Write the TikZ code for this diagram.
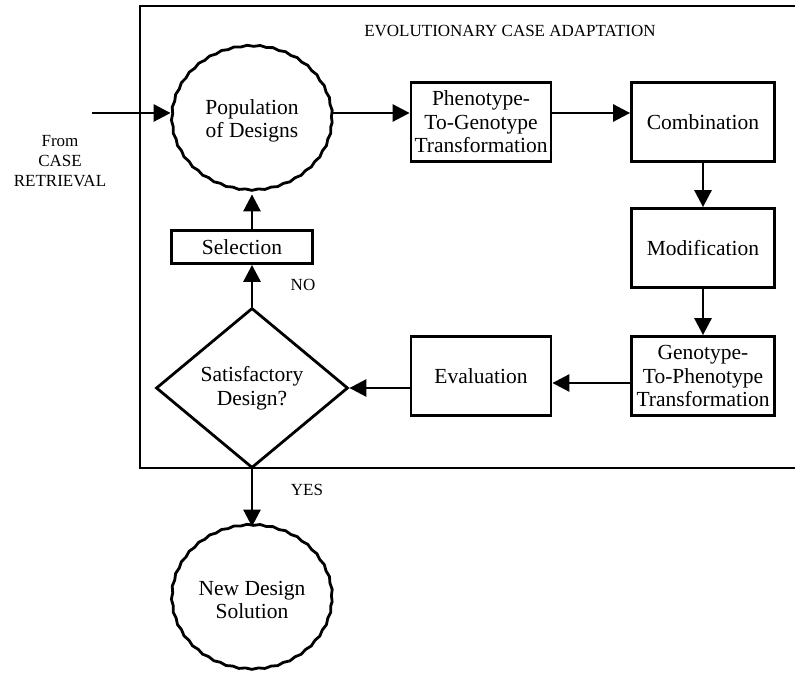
\documentclass[tikz,border=0pt]{standalone}
\usepackage{fontspec}
\setmainfont{Liberation Serif}
\usetikzlibrary{arrows.meta,shapes.geometric,decorations.pathmorphing}
\begin{document}
\begin{tikzpicture}[x=1pt, y=1pt, line width=2.8pt,
  >={Triangle[length=17pt,width=17pt]},
  every node/.style={font=\fontsize{21.5}{23.5}\selectfont, align=center, inner sep=0pt},
  small/.style={font=\fontsize{17}{20}\selectfont},
  box/.style={draw, rectangle, minimum width=141pt, minimum height=79pt},
  blob/.style={draw, ellipse, minimum width=160pt, minimum height=144pt,
    decorate, decoration={snake, amplitude=0.6pt, segment length=13pt}},
  test/.style={draw, diamond, minimum width=192pt, minimum height=160pt}]
  \useasboundingbox (0,0) rectangle (795,673);
  % frame
  \draw (795,667) -- (140,667) -- (140,205) -- (795,205);
  \node[small] (title) at (510,642) {EVOLUTIONARY CASE ADAPTATION};
  % loop
  \node[blob] (pop) at (252,552) {Population\\of Designs};
  \node[box, minimum width=140pt] (p2g) at (481,551) {Phenotype-\\To-Genotype\\Transformation};
  \node[box, minimum width=143pt] (comb) at (703,551) {Combination};
  \node[box, minimum width=143pt] (mod) at (703,425) {Modification};
  \node[box, minimum width=143pt] (g2p) at (703,297) {Genotype-\\To-Phenotype\\Transformation};
  \node[box, minimum width=140pt] (eval) at (481,297) {Evaluation};
  \node[test] (dia) at (252,285) {Satisfactory\\Design?};
  \node[box, minimum height=33pt] (sel) at (242,426) {Selection};
  \node[blob] (sol) at (252,73) {New Design\\Solution};
  % labels
  \coordinate (in) at (92,560);
  \node[small] (from) at (60,512) {From\\CASE\\RETRIEVAL};
  \node[small] (no) at (303,388) {NO};
  \node[small] (yes) at (307,183) {YES};
  % arrows
  \draw[->] (in) -- (in -| pop.west);
  \draw[->] (pop.east |- in) -- (in -| p2g.west);
  \draw[->] (p2g.east |- in) -- (in -| comb.west);
  \draw[->] (comb.south) -- (mod.north);
  \draw[->] (mod.south) -- (g2p.north);
  \draw[->] ([yshift=-7pt]g2p.west) -- ([yshift=-7pt]eval.east);
  \draw[->] (eval.west |- dia.east) -- (dia.east);
  \draw[->] (dia.north) -- (dia.north |- sel.south);
  \draw[->] (pop.south |- sel.north) -- (pop.south);
  \draw[->] (dia.south) -- (sol.north);
\end{tikzpicture}
\end{document}
